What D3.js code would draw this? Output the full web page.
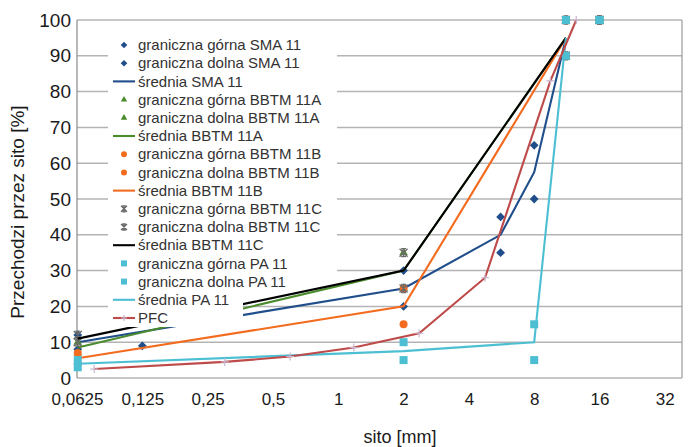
<!DOCTYPE html>
<html>
<head>
<meta charset="utf-8">
<script src="https://cdn.jsdelivr.net/npm/d3@7"></script>
<style>
  body { margin: 0; background: #fff; }
  text { font-family: "Liberation Sans", Arial, sans-serif; }
</style>
</head>
<body>
<script>
// sieve sizes [mm] and passing [%]
const smaSieves = [0.063, 2, 5.6, 8, 11.2, 16];
const smaUpper = [12, 30, 45, 65, 100, 100];
const smaLowerSieves = [0.063, 0.125, 2, 5.6, 8, 11.2, 16];
const smaLower = [8, 9, 20, 35, 50, 90, 100];
const smaMeanSieves = [0.063, 2, 5.6, 8, 11.2];
const smaMean = [10, 25, 40, 57.5, 95];

const bbtmSieves = [0.063, 2, 11.2, 16];
const bbtmMeanSieves = [0.063, 2, 11.2];
const bbtmAUpper = [10, 35, 100, 100];
const bbtmALower = [7, 25, 90, 100];
const bbtmAMean = [8.5, 30, 95];
const bbtmBUpper = [7, 25, 100, 100];
const bbtmBLower = [4, 15, 90, 100];
const bbtmBMean = [5.5, 20, 95];
const bbtmCUpper = [12, 35, 100, 100];
const bbtmCLower = [10, 25, 90, 100];
const bbtmCMean = [11, 30, 95];

const paSieves = [0.063, 2, 8, 11.2, 16];
const paUpper = [5, 10, 15, 100, 100];
const paLower = [3, 5, 5, 90, 100];
const paMeanSieves = [0.063, 2, 8, 11.2];
const paMean = [4, 7.5, 10, 95];

const pfcSieves = [0.075, 0.3, 0.6, 1.18, 2.36, 4.75, 9.5, 12.5];
const pfcValues = [2.5, 4.5, 6, 8.5, 12.5, 28, 83, 100];

const xTicks = [0.0625, 0.125, 0.25, 0.5, 1, 2, 4, 8, 16, 32];
const yTicks = [0, 10, 20, 30, 40, 50, 60, 70, 80, 90, 100];

const colSMA = "#1f4e8a", colA = "#4a8b2c", colB = "#f26b1f",
  colC = "#000000", colPA = "#4dbfd3", colPFC = "#be4a4a", colStar = "#6b6b6b";

// series list in Excel order
const series = [
  { name: "graniczna górna SMA 11", type: "pt", sym: "diamond", color: colSMA, x: smaSieves, y: smaUpper },
  { name: "graniczna dolna SMA 11", type: "pt", sym: "diamond", color: colSMA, x: smaLowerSieves, y: smaLower },
  { name: "średnia SMA 11", type: "line", color: colSMA, x: smaMeanSieves, y: smaMean },
  { name: "graniczna górna BBTM 11A", type: "pt", sym: "triangle", color: colA, x: bbtmSieves, y: bbtmAUpper },
  { name: "graniczna dolna BBTM 11A", type: "pt", sym: "triangle", color: colA, x: bbtmSieves, y: bbtmALower },
  { name: "średnia BBTM 11A", type: "line", color: colA, x: bbtmMeanSieves, y: bbtmAMean },
  { name: "graniczna górna BBTM 11B", type: "pt", sym: "circle", color: colB, x: bbtmSieves, y: bbtmBUpper },
  { name: "graniczna dolna BBTM 11B", type: "pt", sym: "circle", color: colB, x: bbtmSieves, y: bbtmBLower },
  { name: "średnia BBTM 11B", type: "line", color: colB, x: bbtmMeanSieves, y: bbtmBMean },
  { name: "graniczna górna BBTM 11C", type: "pt", sym: "star", color: colStar, x: bbtmSieves, y: bbtmCUpper },
  { name: "graniczna dolna BBTM 11C", type: "pt", sym: "star", color: colStar, x: bbtmSieves, y: bbtmCLower },
  { name: "średnia BBTM 11C", type: "line", color: colC, x: bbtmMeanSieves, y: bbtmCMean },
  { name: "graniczna górna PA 11", type: "pt", sym: "square", color: colPA, x: paSieves, y: paUpper },
  { name: "graniczna dolna PA 11", type: "pt", sym: "square", color: colPA, x: paSieves, y: paLower },
  { name: "średnia PA 11", type: "line", color: colPA, x: paMeanSieves, y: paMean },
  { name: "PFC", type: "linept", sym: "plus", color: colPFC, x: pfcSieves, y: pfcValues }
];

const width = 688, height = 447;
const pLeft = 77, pRight = 682, pTop = 20, pBottom = 378;

const svg = d3.select("body").append("svg")
  .attr("width", width)
  .attr("height", height);

const x = d3.scaleLog().base(2).domain([0.0625, 38.4]).range([pLeft, pRight]);
const y = d3.scaleLinear().domain([0, 100]).range([pBottom, pTop]);

// gridlines
svg.append("g")
  .selectAll("line")
  .data(yTicks)
  .enter()
  .append("line")
  .attr("x1", pLeft).attr("x2", pRight)
  .attr("y1", d => y(d)).attr("y2", d => y(d))
  .attr("stroke", "#b4b4b4")
  .attr("stroke-width", 1.5);

// frame
svg.append("line").attr("x1", pRight).attr("x2", pRight).attr("y1", pTop).attr("y2", pBottom)
  .attr("stroke", "#9a9a9a").attr("stroke-width", 1.2);
svg.append("line").attr("x1", pLeft).attr("x2", pLeft).attr("y1", pTop).attr("y2", pBottom)
  .attr("stroke", "#8a8a8a").attr("stroke-width", 1.2);

// y labels
var yAxis = svg.append("g")
  .attr("transform", "translate(" + (pLeft - 6) + ",0)")
  .call(d3.axisLeft(y).tickValues(yTicks).tickSize(0).tickPadding(0));
yAxis.select(".domain").remove();
yAxis.selectAll("text").style("font-size", "19px").attr("fill", "#1a1a1a");

// x labels
var xAxis = svg.append("g")
  .attr("transform", "translate(0," + (pBottom + 15) + ")")
  .call(d3.axisBottom(x).tickValues(xTicks).tickSize(0).tickPadding(0)
    .tickFormat(d => String(d).replace(".", ",")));
xAxis.select(".domain").remove();
xAxis.selectAll("text").style("font-size", "17px").attr("fill", "#1a1a1a");

// axis titles
svg.append("text")
  .attr("transform", "translate(24," + 212 + ") rotate(-90)")
  .attr("text-anchor", "middle")
  .style("font-size", "19px")
  .attr("fill", "#1a1a1a")
  .text("Przechodzi przez sito [%]");

svg.append("text")
  .attr("x", 400).attr("y", 443)
  .attr("text-anchor", "middle")
  .style("font-size", "18px")
  .attr("fill", "#1a1a1a")
  .text("sito [mm]");

// marker drawing
function drawMarker(g, sym, color, size) {
  var s = size;
  if (sym === "diamond") {
    var h = s * 0.55;
    g.append("path").attr("d", "M0," + (-h) + "L" + h + ",0L0," + h + "L" + (-h) + ",0Z")
      .attr("fill", color);
  } else if (sym === "triangle") {
    g.append("path").attr("d", d3.symbol().type(d3.symbolTriangle).size(s * s * 0.5)())
      .attr("fill", color);
  } else if (sym === "circle") {
    g.append("circle").attr("r", s / 2).attr("fill", color);
  } else if (sym === "square") {
    g.append("rect").attr("x", -s / 2).attr("y", -s / 2).attr("width", s).attr("height", s)
      .attr("fill", color);
  } else if (sym === "star") {
    var k = s / 2;
    g.append("path")
      .attr("d", "M" + (-k) + "," + (-k) + "L" + k + "," + k + "M" + (-k) + "," + k + "L" + k + "," + (-k) +
        "M0," + (-k) + "L0," + k + "M" + (-k * 0.6) + "," + (-k) + "L" + (k * 0.6) + "," + (-k) +
        "M" + (-k * 0.6) + "," + k + "L" + (k * 0.6) + "," + k)
      .attr("stroke", color).attr("stroke-width", 1.3).attr("fill", "none");
  } else if (sym === "plus") {
    var p = s / 2;
    g.append("path")
      .attr("d", "M" + (-p) + ",0L" + p + ",0M0," + (-p) + "L0," + p)
      .attr("stroke", "#c9b6cf").attr("stroke-width", 1.2).attr("fill", "none");
  }
}

var line = d3.line()
  .x(d => x(d[0]))
  .y(d => y(d[1]));

var plot = svg.append("g").attr("class", "plot");

series.forEach(function (s) {
  var pts = s.x.map((v, i) => [v, s.y[i]]);
  if (s.type === "line" || s.type === "linept") {
    plot.append("path")
      .datum(pts)
      .attr("d", line)
      .attr("fill", "none")
      .attr("stroke", s.color)
      .attr("stroke-width", 2.1);
  }
  if (s.type === "pt" || s.type === "linept") {
    plot.selectAll(null)
      .data(pts)
      .enter()
      .append("g")
      .attr("transform", d => "translate(" + x(d[0]) + "," + y(d[1]) + ")")
      .each(function () {
        drawMarker(d3.select(this), s.sym, s.color, 8);
      });
  }
});

// legend background (covers plot like the Excel legend)
var legend = svg.append("g").attr("class", "legend");
legend.append("rect")
  .attr("x", 108).attr("y", 30).attr("width", 229).attr("height", 245)
  .attr("fill", "#fff");
legend.append("rect")
  .attr("x", 108).attr("y", 274).attr("width", 135).attr("height", 53)
  .attr("fill", "#fff");

const legY0 = 45, legDy = 18.2;
series.forEach(function (s, i) {
  var row = legend.append("g")
    .attr("transform", "translate(0," + (legY0 + i * legDy) + ")");
  if (s.type === "line" || s.type === "linept") {
    row.append("line")
      .attr("x1", 113).attr("x2", 135)
      .attr("y1", 0).attr("y2", 0)
      .attr("stroke", s.color)
      .attr("stroke-width", 2.1);
  }
  if (s.type === "pt" || s.type === "linept") {
    var m = row.append("g").attr("transform", "translate(124,0)");
    drawMarker(m, s.sym, s.color, 6);
  }
  row.append("text")
    .attr("x", 138)
    .attr("y", 0)
    .attr("dy", "0.35em")
    .style("font-size", "15px")
    .attr("fill", "#333")
    .text(s.name);
});
</script>
</body>
</html>
